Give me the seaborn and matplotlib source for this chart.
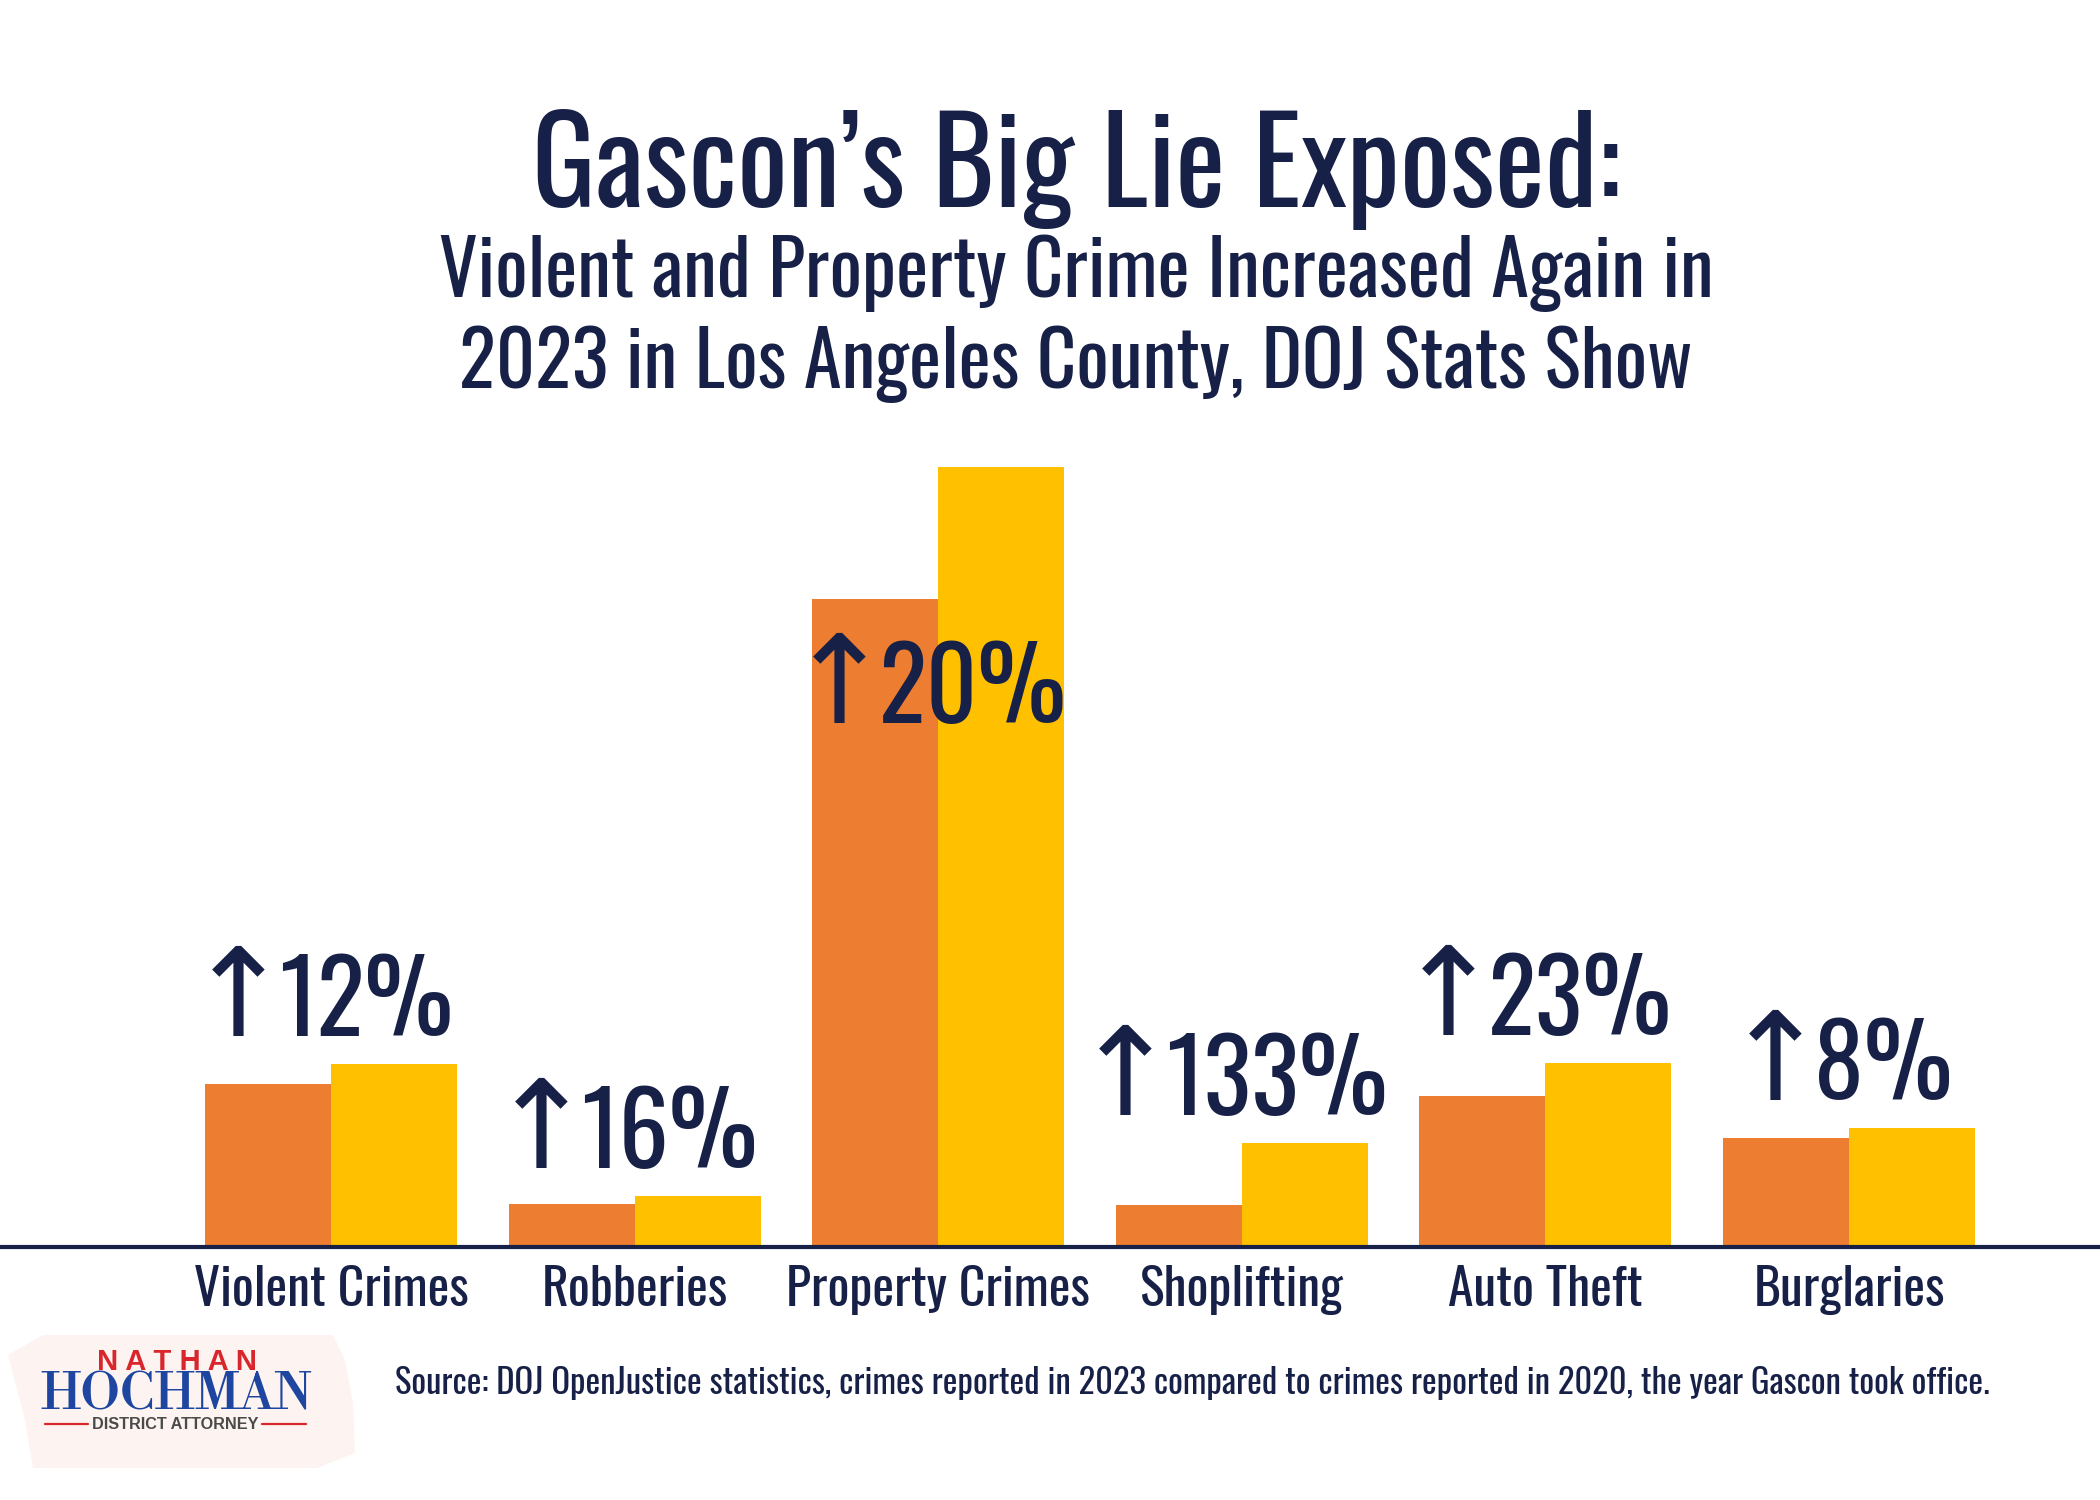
import numpy as np
import pandas as pd
import matplotlib
matplotlib.use("Agg")
import matplotlib.pyplot as plt
import seaborn as sns
from matplotlib import font_manager as fm
from matplotlib.font_manager import FontProperties
from matplotlib.textpath import TextPath
from matplotlib.ft2font import FT2Font
from matplotlib.patches import Polygon
from matplotlib.lines import Line2D

# ---------------- data ----------------
categories = ["Violent Crimes", "Robberies", "Property Crimes", "Shoplifting", "Auto Theft", "Burglaries"]
years = ["2020", "2023"]
crimes_2020 = [40.7, 10.8, 161.9, 10.4, 37.7, 27.3]
crimes_2023 = [45.8, 12.8, 195.0, 26.0, 46.0, 29.8]
pct_labels = ["12%", "16%", "20%", "133%", "23%", "8%"]

title = "Gascon’s Big Lie Exposed:"
subtitle_lines = ["Violent and Property Crime Increased Again in",
                  "2023 in Los Angeles County, DOJ Stats Show"]
source_text = ("Source: DOJ OpenJustice statistics, crimes reported in 2023 compared to "
               "crimes reported in 2020, the year Gascon took office.")

# ---------------- style ----------------
NAVY = "#172046"
ORANGE = "#ED7D31"
YELLOW = "#FFC000"
RED = "#D9262C"
BLUE = "#1E46A0"
GRAY = "#4A4A4A"
BLOB = "#FDF4F1"

available = {f.name for f in fm.fontManager.ttflist}


def pick(cands, tail):
    return [c for c in cands if c in available] + tail


NARROW = pick(["Oswald", "Fira Sans Extra Condensed", "Barlow Condensed",
               "Roboto Condensed"], ["DejaVu Sans"])
SERIF = pick(["Libre Bodoni", "Bodoni Moda", "Playfair Display", "Liberation Serif"],
             ["DejaVu Serif"])
SANS = pick(["Liberation Sans"], ["DejaVu Sans"])


def resolve(family, weight):
    try:
        return fm.findfont(FontProperties(family=family, weight=weight),
                           fallback_to_default=False)
    except Exception:
        return None


def ink(path, s):
    ext = TextPath((0, 0), s, size=100, prop=FontProperties(fname=path)).get_extents()
    return ext.x0, ext.y0, ext.width, ext.height


def has_glyph(path, ch):
    try:
        return ord(ch) in FT2Font(path).get_charmap()
    except Exception:
        return False


# figure font for the big percentage numbers: narrow gothic, ratio like the reference
num_cands = ["Roboto Condensed", "Oswald", "Antonio", "Fira Sans Extra Condensed",
             "Barlow Condensed", "Saira Extra Condensed", "Sofia Sans Extra Condensed",
             "Asap Condensed", "Encode Sans Condensed", "IBM Plex Sans Condensed"]
target_ratio = 82 / 168  # ink height / width of "12%"
best = None
for fam in num_cands:
    p = resolve(fam, 500)
    if p is None:
        continue
    _, _, w, h = ink(p, "12%")
    score = abs(h / w - target_ratio)
    if best is None or score < best[0]:
        best = (score, p)
NUM_PATH = best[1] if best else fm.findfont(FontProperties(family="DejaVu Sans"))

arrow_cands = ["Roboto Condensed", "Fira Sans Extra Condensed", "Fira Sans Condensed",
               "Barlow Condensed", "Encode Sans Condensed", "IBM Plex Sans Condensed",
               "Archivo Narrow", "Asap Condensed", "Roboto", "Noto Sans", "Open Sans",
               "Lato", "Inter", "Liberation Sans", "DejaVu Sans"]
target_arrow = 52 / 90  # width / height of the arrow ink
best = None
for fam in arrow_cands:
    p = resolve(fam, 400)
    if p is None or not has_glyph(p, "↑"):
        continue
    _, _, w, h = ink(p, "↑")
    if h <= 0:
        continue
    score = abs(w / h - target_arrow)
    if best is None or score < best[0]:
        best = (score, p)
ARROW_PATH = best[1] if best else fm.findfont(FontProperties(family="DejaVu Sans"))

sns.set_theme(style="white")
plt.rcParams["font.family"] = NARROW

df = pd.DataFrame({
    "category": categories * 2,
    "year": [years[0]] * len(categories) + [years[1]] * len(categories),
    "value": crimes_2020 + crimes_2023,
})

W, H = 2100, 1500
fig = plt.figure(figsize=(21, 15), dpi=100)
fig.patch.set_facecolor("white")


def fx(px):
    return px / W


def fy(py):
    return 1 - py / H


base_px, top_px = 1247, 400
ax = fig.add_axes([0, fy(base_px), 1, (base_px - top_px) / H])
sns.barplot(data=df, x="category", y="value", hue="year", order=categories,
            hue_order=years, palette=[ORANGE, YELLOW], width=0.83, saturation=1,
            ax=ax, legend=False, linewidth=0, errorbar=None)

tallest_px = 780.0
ax.set_ylim(0, max(crimes_2023) * (base_px - top_px) / tallest_px)
spacing = 303.6
x0 = -331 / spacing
ax.set_xlim(x0, x0 + W / spacing)
ax.set_facecolor("none")
for s in ["left", "top", "right"]:
    ax.spines[s].set_visible(False)
ax.spines["bottom"].set_color(NAVY)
ax.spines["bottom"].set_linewidth(3.0)
ax.set_yticks([])
ax.set_xlabel("")
ax.set_ylabel("")
ax.tick_params(axis="x", length=0, pad=13, labelcolor=NAVY, labelsize=36)

# ---------------- percentage labels (arrow + number) ----------------
num_h_px, arrow_h_px, gap_px = 82.0, 90.0, 17.0
_, _, _, h12 = ink(NUM_PATH, "12%")
num_scale = num_h_px / h12          # px per TextPath unit (size 100)
num_pt = 100 * num_scale * 72 / 100
ax0, ay0, aw, ah = ink(ARROW_PATH, "↑")
arr_scale = arrow_h_px / ah
arr_pt = 100 * arr_scale * 72 / 100

ymax = ax.get_ylim()[1]
for i, (a, b, lab) in enumerate(zip(crimes_2020, crimes_2023, pct_labels)):
    if max(a, b) > 0.6 * ymax:
        anchor_y, dy = min(a, b), -124
    else:
        anchor_y, dy = max(a, b), 28
    nx0, ny0, nw, nh = ink(NUM_PATH, lab)
    total = aw * arr_scale + gap_px + nw * num_scale
    left = -total / 2
    ax.annotate("↑", xy=(i, anchor_y), xytext=(left - ax0 * arr_scale, dy - ay0 * arr_scale),
                textcoords="offset pixels", ha="left", va="baseline",
                fontproperties=FontProperties(fname=ARROW_PATH, size=arr_pt), color=NAVY)
    ax.annotate(lab, xy=(i, anchor_y),
                xytext=(left + aw * arr_scale + gap_px - nx0 * num_scale, dy),
                textcoords="offset pixels", ha="left", va="baseline",
                fontproperties=FontProperties(fname=NUM_PATH, size=num_pt,
                                              weight=500), color=NAVY)

# titles
t_title = fig.text(fx(1076), fy(207), title, ha="center", va="baseline",
                   fontsize=80, color=NAVY, fontweight=500)
t_sub1 = fig.text(fx(1076), fy(297), subtitle_lines[0], ha="center", va="baseline",
                  fontsize=50, color=NAVY)
t_sub2 = fig.text(fx(1076), fy(388), subtitle_lines[1], ha="center", va="baseline",
                  fontsize=50, color=NAVY)
t_src = fig.text(fx(395), fy(1394), source_text, ha="left", va="baseline",
                 fontsize=20, color=NAVY, fontweight=500)

# logo
blob_pts = [(43, 1335), (333, 1335), (345, 1360), (353, 1403), (355, 1453),
            (317, 1468), (33, 1468), (25, 1420), (8, 1355)]
fig.add_artist(Polygon([(fx(x), fy(y)) for x, y in blob_pts], closed=True,
                       facecolor=BLOB, edgecolor="none", transform=fig.transFigure,
                       zorder=0))
t_nat = fig.text(fx(177), fy(1370), "N A T H A N", ha="center", va="baseline",
                 fontsize=20, color=RED, fontweight="bold", family=SANS)
t_hoch = fig.text(fx(176), fy(1410), "HOCHMAN", ha="center", va="baseline",
                  fontsize=36, color=BLUE, fontweight="bold", family=SERIF)
t_da = fig.text(fx(175), fy(1429), "DISTRICT ATTORNEY", ha="center", va="baseline",
                fontsize=10, color=GRAY, fontweight="bold", family=SANS)
for xa, xb in [(45, 88), (262, 306)]:
    fig.add_artist(Line2D([fx(xa), fx(xb)], [fy(1424), fy(1424)], color=RED,
                          linewidth=1.6, transform=fig.transFigure))

# fit text widths to the reference layout
fig.canvas.draw()
r = fig.canvas.get_renderer()


def fit_width(t, target):
    w = t.get_window_extent(r).width
    t.set_fontsize(t.get_fontsize() * target / w)


fit_width(t_title, 1089)
fit_width(t_sub1, 1276)
fit_width(t_sub2, 1234)
fit_width(t_src, 1600)
fit_width(t_nat, 160)
fit_width(t_hoch, 272)
fit_width(t_da, 166)

# category labels: common size from "Property Crimes"
labels = ax.get_xticklabels()
w_prop = labels[categories.index("Property Crimes")].get_window_extent(r).width
new_size = labels[0].get_fontsize() * 304 / w_prop
ax.tick_params(axis="x", labelsize=new_size)

fig.savefig("out.png", dpi=100, facecolor="white")
